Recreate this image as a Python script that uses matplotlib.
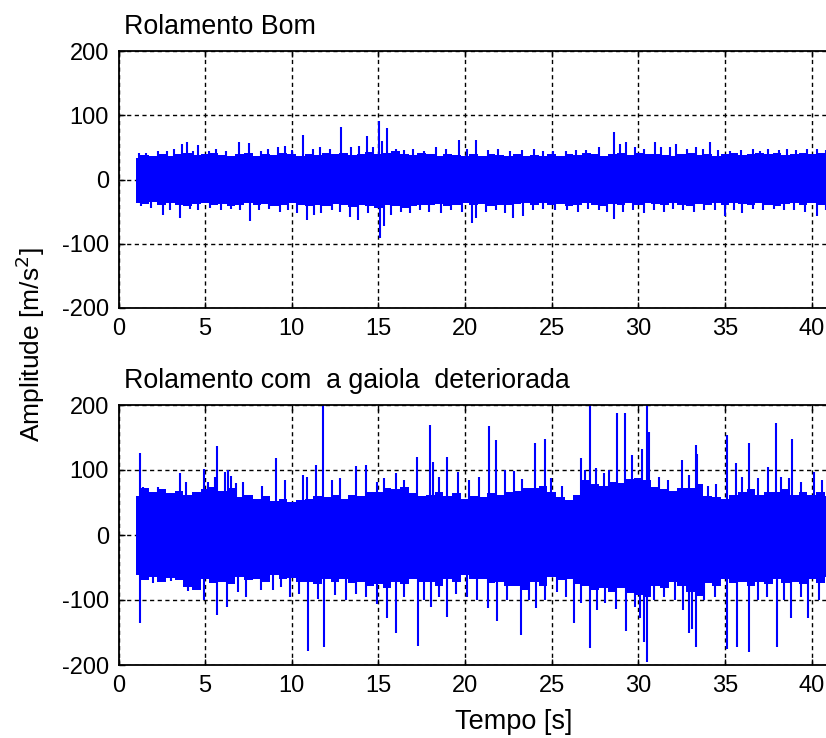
import numpy as np
import matplotlib
matplotlib.use("Agg")
import matplotlib.pyplot as plt

BLUE = "#0000ff"

# dense vibration band: upper / lower envelope, one value every 0.5 s (t = 1..42 s)
t_env = np.arange(1, 42.01, 0.5)
good_hi = [34, 38, 36, 40, 37, 39, 41, 38, 40, 42, 38, 36, 39, 41, 37, 40, 38, 41, 39, 37,
           40, 38, 42, 39, 41, 38, 40, 43, 39, 41, 44, 40, 38, 41, 39, 37, 40, 38, 36, 39,
           37, 40, 38, 36, 39, 37, 38, 36, 39, 37, 40, 38, 41, 39, 37, 40, 42, 38, 41, 39,
           40, 38, 36, 39, 41, 38, 40, 37, 39, 41, 38, 40, 42, 39, 41, 38, 40, 42, 39, 41,
           40, 38, 40]
good_lo = [-36, -38, -35, -40, -37, -39, -41, -38, -36, -40, -38, -42, -39, -37, -40, -38,
           -41, -39, -37, -40, -42, -39, -41, -38, -40, -43, -39, -41, -44, -40, -42, -45,
           -41, -39, -40, -38, -41, -39, -37, -40, -38, -41, -39, -40, -38, -36, -39, -37,
           -40, -38, -41, -39, -37, -40, -42, -38, -40, -37, -39, -36, -38, -40, -37, -39,
           -41, -38, -40, -37, -39, -36, -38, -40, -37, -39, -41, -38, -36, -39, -37, -40,
           -38, -39, -37]
bad_hi = [60, 72, 66, 70, 64, 68, 62, 66, 70, 74, 68, 72, 58, 62, 56, 60, 52, 56, 50, 54,
          56, 60, 58, 62, 56, 62, 60, 66, 66, 72, 70, 74, 64, 60, 62, 66, 60, 64, 56, 60,
          58, 64, 62, 66, 68, 72, 72, 76, 66, 58, 54, 62, 84, 78, 76, 82, 80, 86, 88, 84,
          74, 70, 68, 72, 72, 78, 60, 58, 56, 62, 66, 70, 62, 66, 66, 70, 62, 66, 62, 66,
          60, 64, 62]
bad_lo = [-62, -70, -64, -72, -66, -70, -80, -84, -68, -74, -72, -76, -64, -70, -68, -72,
          -62, -68, -66, -72, -72, -76, -68, -72, -68, -74, -72, -78, -76, -82, -72, -76,
          -68, -72, -72, -78, -68, -72, -62, -68, -68, -74, -72, -78, -78, -84, -72, -78,
          -64, -70, -68, -76, -78, -84, -82, -88, -82, -90, -92, -96, -78, -82, -72, -78,
          -88, -94, -74, -78, -68, -74, -72, -78, -72, -76, -68, -74, -72, -76, -68, -74,
          -64, -68, -64]

# isolated peaks sticking out of the band: time [s], amplitude [m/s^2]
good_pk_t = [1.2, 1.6, 2.3, 2.8, 3.2, 3.65, 3.93, 4.3, 4.59, 5.2, 5.6, 6.2, 6.97, 7.55, 8.2,
             8.6, 9.2, 9.6, 10.0, 10.66, 11.2, 11.6, 12.2, 12.82, 13.4, 13.9, 14.32, 14.7, 15.05,
             15.2, 15.47, 16.0, 16.5, 17.0, 17.6, 18.3, 18.9, 19.67, 20.1, 20.63, 21.3, 21.9,
             22.6, 23.3, 24.0, 24.5, 25.1, 25.8, 26.4, 27.0, 27.7, 28.6, 28.94, 29.3, 29.8,
             30.3, 30.96, 31.3, 31.8, 32.17, 32.8, 33.3, 33.7, 34.13, 34.6, 35.3, 35.9, 36.6,
             37.0, 37.5, 38.1, 38.6, 39.1, 39.7, 40.3, 40.8, 41.3,
             1.3, 1.9, 2.59, 3.0, 3.55, 4.1, 4.6, 5.3, 5.9, 6.5, 7.0, 7.59, 8.1, 8.7, 9.3, 9.8,
             10.3, 10.86, 11.3, 11.7, 12.3, 12.8, 13.36, 13.84, 14.4, 15.09, 15.3, 15.7, 16.3,
             16.8, 17.4, 17.9, 18.6, 19.2, 19.8, 20.38, 20.63, 21.2, 21.8, 22.3, 22.78, 23.32,
             23.9, 24.5, 25.2, 25.9, 26.5, 27.1, 27.7, 28.2, 28.6, 29.1, 29.7, 30.3, 30.9, 31.5,
             32.0, 32.6, 33.2, 33.8, 34.4, 35.0, 35.5, 36.0, 36.6, 37.2, 37.8, 38.4, 39.0, 39.6,
             40.29, 40.8, 41.4]
good_pk_a = [42, 42, 45, 45, 48, 56, 59, 45, 53, 45, 48, 45, 59, 57, 45, 48, 50, 52, 46, 69, 48,
             50, 47, 82, 50, 52, 67, 50, 91, 60, 80, 48, 46, 48, 45, 50, 47, 61, 48, 61, 46, 47,
             45, 46, 47, 44, 44, 45, 46, 46, 50, 74, 56, 58, 50, 48, 58, 50, 50, 55, 48, 50, 48,
             58, 46, 45, 46, 48, 45, 48, 46, 48, 46, 47, 48, 46, 47,
             -42, -45, -55, -48, -60, -46, -48, -45, -47, -46, -48, -65, -48, -46, -50, -48, -52,
             -63, -55, -52, -48, -50, -58, -63, -52, -91, -73, -55, -50, -52, -48, -50, -52, -47,
             -50, -67, -60, -50, -48, -52, -60, -57, -48, -46, -47, -48, -50, -46, -48, -50, -62,
             -50, -47, -52, -48, -50, -46, -48, -50, -47, -48, -57, -48, -52, -46, -48, -46, -48,
             -47, -50, -57, -48, -46]

bad_pk_t = [1.22, 1.4, 2.28, 3.53, 3.92, 4.93, 5.16, 5.55, 5.7, 6.13, 6.34, 6.47, 6.8, 7.18,
            8.28, 9.09, 9.58, 10.66, 10.9, 11.4, 11.82, 12.3, 12.8, 13.7, 14.28, 14.9, 15.34,
            16.01, 16.5, 17.2, 17.97, 18.13, 18.5, 18.94, 19.6, 20.2, 20.8, 21.4, 21.78, 22.32,
            22.8, 23.28, 24.05, 24.63, 24.97, 25.6, 26.69, 26.9, 27.22, 27.55, 28.0, 28.3, 28.77,
            29.24, 29.63, 30.2, 30.5, 30.6, 31.2, 31.7, 32.52, 32.94, 33.32, 33.4, 34.0, 34.5,
            35.1, 35.63, 36.0, 36.4, 36.9, 37.46, 37.94, 38.2, 38.7, 38.86, 39.4, 40.15, 40.6,
            41.2,
            1.22, 1.99, 3.04, 4.01, 4.4, 4.93, 5.7, 6.28, 6.9, 7.38, 8.2, 8.92, 9.4, 9.9, 10.4,
            10.92, 11.5, 11.86, 12.5, 13.1, 13.7, 14.3, 14.9, 15.47, 16.0, 16.5, 17.26, 17.6,
            18.02, 18.5, 18.94, 19.5, 20.1, 20.7, 21.34, 21.84, 22.4, 23.2, 23.7, 24.1, 24.6,
            25.3, 25.8, 26.27, 26.7, 27.2, 27.6, 28.1, 28.71, 29.3, 29.8, 30.11, 30.3, 30.48,
            30.9, 31.5, 32.1, 32.6, 32.94, 33.1, 33.3, 33.8, 34.4, 35.1, 35.67, 36.4, 36.9, 37.4,
            37.98, 38.4, 38.8, 39.4, 39.8, 40.4, 41.0]
bad_pk_a = [126, 74, 74, 95, 82, 101, 81, 90, 137, 97, 100, 91, 80, 82, 75, 118, 85, 92, 90,
            108, 200, 85, 88, 106, 108, 82, 88, 96, 85, 120, 169, 113, 90, 120, 97, 85, 90, 167,
            146, 100, 98, 86, 142, 147, 87, 75, 118, 100, 200, 103, 95, 100, 188, 188, 123, 133,
            200, 159, 90, 85, 116, 92, 138, 125, 75, 78, 154, 111, 90, 141, 88, 105, 172, 90, 88,
            147, 82, 97, 85, 90,
            -135, -74, -70, -86, -85, -100, -123, -111, -88, -95, -85, -85, -80, -95, -90, -178,
            -98, -173, -92, -100, -90, -95, -106, -128, -150, -95, -171, -100, -111, -95, -126,
            -90, -95, -100, -113, -133, -100, -154, -100, -113, -100, -88, -95, -136, -105, -174,
            -115, -105, -114, -147, -110, -128, -165, -195, -100, -95, -100, -115, -151, -145,
            -173, -100, -95, -176, -172, -180, -100, -95, -172, -100, -128, -95, -128, -100, -95]

titles = ["Rolamento Bom", "Rolamento com  a gaiola  deteriorada"]
xticks = np.arange(0, 45, 5)
yticks = [-200, -100, 0, 100, 200]

plt.rcParams["font.family"] = ["Liberation Sans", "DejaVu Sans"]
plt.rcParams["axes.unicode_minus"] = False

fig = plt.figure(figsize=(8.26, 7.38), dpi=100)
W, H = 826, 738
x0, px_per_s, xmax = 118.5, 17.33, 42
boxes = [(51, 308), (405, 665)]
series = [(good_hi, good_lo, good_pk_t, good_pk_a), (bad_hi, bad_lo, bad_pk_t, bad_pk_a)]

for (top, bot), title, (hi, lo, pk_t, pk_a) in zip(boxes, titles, series):
    ax = fig.add_axes([x0 / W, 1 - bot / H, xmax * px_per_s / W, (bot - top) / H])
    ax.set_axisbelow(True)
    ax.fill_between(t_env, lo, hi, step="mid", color=BLUE, lw=0, zorder=3)
    ax.vlines(pk_t, 0, pk_a, color=BLUE, lw=1.5, zorder=3)
    ax.set_xlim(0, xmax)
    ax.set_ylim(-200, 200)
    ax.set_xticks(xticks)
    ax.set_yticks(yticks)
    ax.grid(True, color="black", ls=(0, (3, 2.5)), lw=1.0)
    ax.tick_params(direction="in", length=4, width=1, labelsize=17, pad=7,
                   top=True, right=True)
    for s in ax.spines.values():
        s.set_linewidth(1.3)
        s.set_zorder(4)
    ax.set_title(title, loc="left", fontsize=19.3, pad=12, x=0.008)

fig.text(30 / W, 1 - 345 / H, "Amplitude [m/s$^2$]", rotation=90, fontsize=19,
         ha="center", va="center")
fig.text(514 / W, 1 - 722 / H, "Tempo [s]", fontsize=19.5, ha="center", va="center")

fig.savefig("out.png", dpi=100)
